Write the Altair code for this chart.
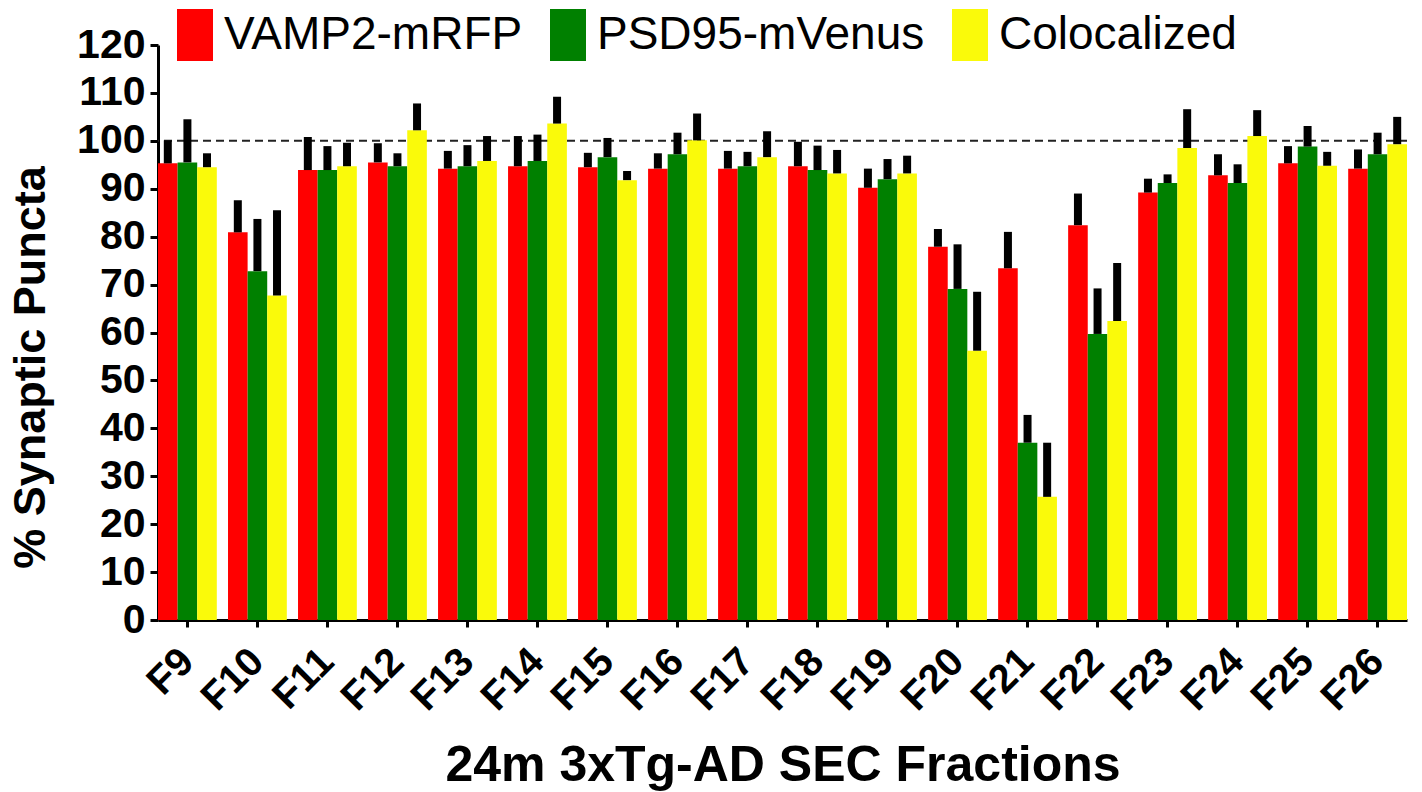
import altair as alt
import pandas as pd

fractions = ["F9", "F10", "F11", "F12", "F13", "F14", "F15", "F16", "F17",
             "F18", "F19", "F20", "F21", "F22", "F23", "F24", "F25", "F26"]
series = ["VAMP2-mRFP", "PSD95-mVenus", "Colocalized"]
colors = ["#FF0000", "#008000", "#FAFA0A"]

vamp2 = [95.3, 80.9, 93.9, 95.5, 94.2, 94.7, 94.5, 94.2, 94.2,
         94.7, 90.2, 77.9, 73.4, 82.4, 89.2, 92.8, 95.3, 94.2]
vamp2_err = [4.8, 6.7, 6.9, 4.0, 3.7, 6.3, 3.0, 3.2, 3.7,
             5.1, 4.0, 3.7, 7.6, 6.6, 2.9, 4.4, 3.6, 4.0]
psd95 = [95.5, 72.8, 93.9, 94.7, 94.7, 95.8, 96.6, 97.2, 94.7,
         93.9, 92.0, 69.1, 37.0, 59.7, 91.2, 91.2, 98.8, 97.2]
psd95_err = [9.0, 10.9, 5.0, 2.7, 4.4, 5.5, 4.0, 4.5, 3.0,
             5.1, 4.2, 9.3, 5.8, 9.5, 1.8, 3.9, 4.3, 4.5]
coloc = [94.5, 67.7, 94.7, 102.2, 95.8, 103.6, 91.8, 100.1, 96.6,
         93.2, 93.2, 56.2, 25.7, 62.4, 98.5, 101.0, 94.8, 99.3]
coloc_err = [2.9, 17.8, 4.9, 5.6, 5.2, 5.6, 1.9, 5.6, 5.4,
             4.9, 3.7, 12.3, 11.3, 12.1, 8.1, 5.4, 2.9, 5.7]
y_ticks = [0, 10, 20, 30, 40, 50, 60, 70, 80, 90, 100, 110, 120]
reference_level = [100]

rows = []
for name, vals, errs in zip(series, [vamp2, psd95, coloc], [vamp2_err, psd95_err, coloc_err]):
    for f, v, e in zip(fractions, vals, errs):
        rows.append({"fraction": f, "series": name, "value": v, "upper": v + e})
df = pd.DataFrame(rows)

FONT = "Liberation Sans"

x_enc = alt.X(
    "fraction:N", sort=fractions,
    scale=alt.Scale(paddingInner=0.16, paddingOuter=0),
    axis=alt.Axis(
        title="24m 3xTg-AD SEC Fractions",
        labelAngle=-45, labelAlign="right", labelBaseline="middle",
        labelFont=FONT, labelFontWeight="bold", labelFontSize=40, labelColor="black",
        labelPadding=28, tickSize=7, tickWidth=3, tickColor="black",
        domainColor="black", domainWidth=3,
        titleFont=FONT, titleFontWeight="bold", titleFontSize=50, titleColor="black",
        titleBaseline="alphabetic", titleY=160, grid=False,
    ),
)
xoff_enc = alt.XOffset("series:N", sort=series, scale=alt.Scale(paddingInner=0, paddingOuter=0))
y_enc = alt.Y(
    "value:Q",
    scale=alt.Scale(domain=[0, 120], nice=False),
    axis=alt.Axis(
        values=y_ticks, title="% Synaptic Puncta",
        labelFont=FONT, labelFontWeight="bold", labelFontSize=41, labelColor="black",
        labelPadding=5, tickSize=8, tickWidth=3, tickColor="black",
        domainColor="black", domainWidth=3, grid=False,
        titleFont=FONT, titleFontWeight="bold", titleFontSize=45, titleColor="black",
        titleAngle=-90, titleAlign="center", titleBaseline="alphabetic",
        titleX=-114, titleY=322,
    ),
)
color_enc = alt.Color(
    "series:N", sort=series,
    scale=alt.Scale(domain=series, range=colors),
    legend=alt.Legend(
        title=None, orient="none", direction="horizontal",
        legendX=14, legendY=-33, padding=0,
        symbolType="M-1,-1.44H1V1.44H-1Z", symbolSize=1296,
        symbolStrokeWidth=0, symbolOpacity=1,
        labelFont=FONT, labelFontSize=46, labelColor="black", labelLimit=1000,
        labelOffset=6, columnPadding=22,
    ),
)

ref = alt.Chart(pd.DataFrame({"y": reference_level})).mark_rule(
    color="#222222", strokeWidth=2, strokeDash=[8, 5]
).encode(y="y:Q")

bars = alt.Chart(df).mark_bar().encode(x=x_enc, xOffset=xoff_enc, y=y_enc, color=color_enc)

errs = alt.Chart(df).mark_rule(color="black", strokeWidth=8).encode(
    x=x_enc, xOffset=xoff_enc, y="value:Q", y2="upper:Q"
)

chart = alt.layer(ref, bars, errs).properties(
    width=1249, height=575,
    autosize=alt.AutoSizeParams(type="none"),
    padding={"left": 158, "top": 45, "right": 15, "bottom": 172},
    background="white",
).configure_view(stroke=None)

chart.save("out.html", embed_options={"renderer": "svg", "actions": False})
